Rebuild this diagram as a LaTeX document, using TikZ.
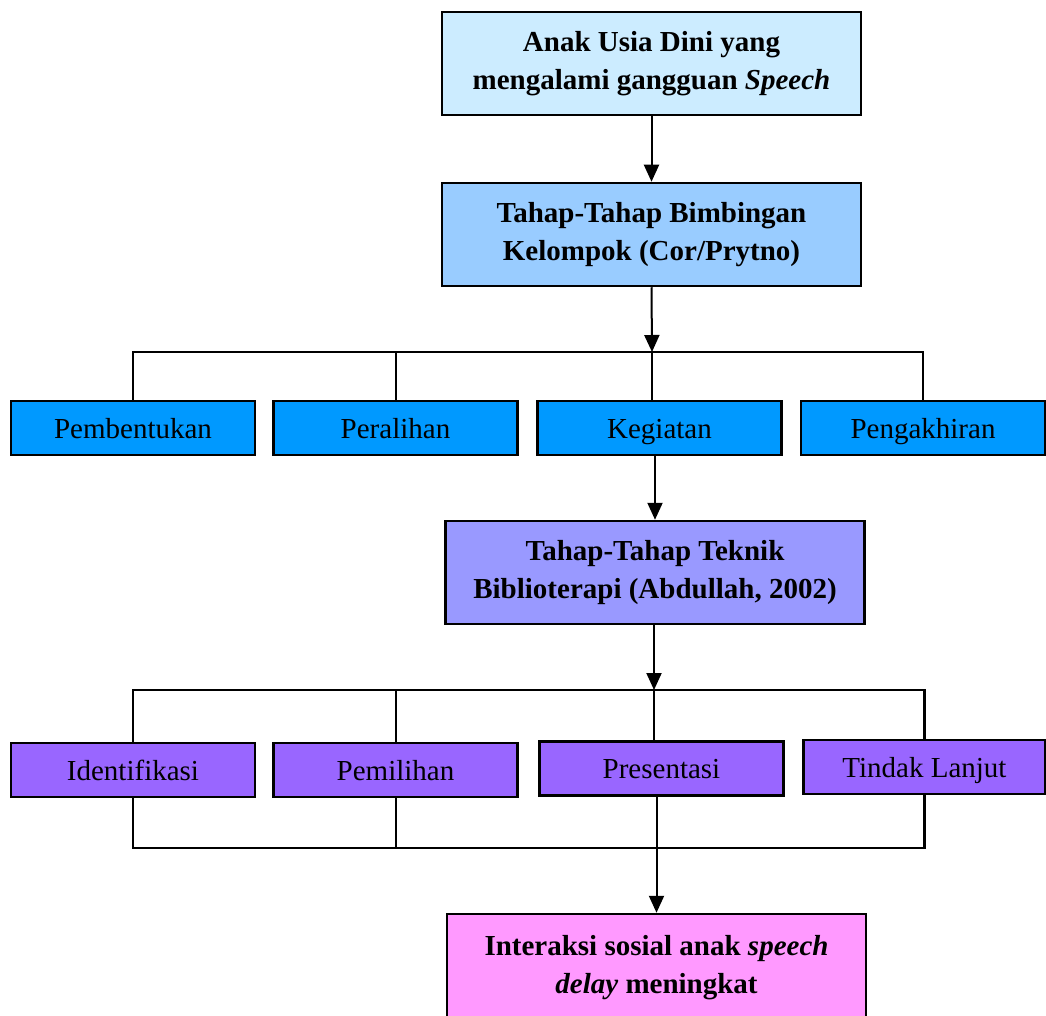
\documentclass[tikz,border=0pt]{standalone}
\usepackage{fontspec}
\setmainfont{Liberation Serif}
\usetikzlibrary{arrows.meta}

\definecolor{paleblue}{HTML}{CCECFF}
\definecolor{skyblue}{HTML}{99CCFF}
\definecolor{deepblue}{HTML}{0099FF}
\definecolor{lavender}{HTML}{9999FF}
\definecolor{violet}{HTML}{9966FF}
\definecolor{pink}{HTML}{FF99FF}

\tikzset{
  box/.style={draw, line width=2.5pt, minimum width=419pt, minimum height=103pt,
    align=center, inner sep=0pt, font=\fontsize{29}{38}\selectfont\bfseries},
  stage/.style={draw, line width=2.5pt, minimum width=244pt, minimum height=54pt,
    inner sep=0pt, text height=23pt, text depth=3pt, font=\fontsize{29}{34}\selectfont},
  link/.style={line width=2pt},
  bus/.style={line width=2.5pt},
  arrow/.style={line width=2pt, -{Triangle[width=15pt,length=17pt]}}
}

\begin{document}
\begin{tikzpicture}[x=1pt,y=-1pt]
            \useasboundingbox (0,0) rectangle (1046,1016);

            % main boxes
            \node[box, fill=paleblue] (anak) at (651.5,63.5) {Anak Usia Dini yang\\mengalami gangguan \textit{Speech}};
            \node[box, fill=skyblue] (bimbingan) at (651.5,234.5) {Tahap-Tahap Bimbingan\\Kelompok (Cor/Prytno)};

            % bimbingan stages
            \node[stage, fill=deepblue] (pembentukan) at (133,428) {Pembentukan};
            \node[stage, fill=deepblue] (peralihan) at (395.5,428) {Peralihan};
            \node[stage, fill=deepblue] (kegiatan) at (659.5,428) {Kegiatan};
            \node[stage, fill=deepblue] (pengakhiran) at (923,428) {Pengakhiran};

            \node[box, fill=lavender] (teknik) at (655,572.5) {Tahap-Tahap Teknik\\Biblioterapi (Abdullah, 2002)};

            % biblioterapi stages
            \node[stage, fill=violet] (identifikasi) at (133,770) {Identifikasi};
            \node[stage, fill=violet] (pemilihan) at (395.5,770) {Pemilihan};
            \node[stage, fill=violet] (presentasi) at (661.5,768.5) {Presentasi};
            \node[stage, fill=violet, minimum width=242pt] (tindak) at (924.5,767) {Tindak Lanjut};

            \node[box, fill=pink, minimum height=108pt] (hasil) at (656.5,968) {Interaksi sosial anak \textit{speech}\\\textit{delay} meningkat};

            \coordinate (top bus) at (652,352);
            \coordinate (mid bus) at (654,690);
            \coordinate (low bus) at (657,848);

            \draw[arrow] (anak) -- (bimbingan);
            \draw[arrow] (bimbingan.south) -- (top bus);
            \draw[bus] (pembentukan.north) |- (top bus) -| (pengakhiran.north);
            \draw[link] (peralihan.north) -- (peralihan.north |- top bus);
            \draw[link] (kegiatan.north -| top bus) -- (top bus);

            \draw[arrow] (teknik.north |- kegiatan.south) -- (teknik.north);
            \draw[arrow] (teknik.south -| mid bus) -- (mid bus);
            \draw[bus] (identifikasi.north) |- (mid bus) -| (tindak.north);
            \draw[link] (pemilihan.north) -- (pemilihan.north |- mid bus);
            \draw[link] (presentasi.north -| mid bus) -- (mid bus);

            \draw[bus] (identifikasi.south) |- (low bus) -| (tindak.south);
            \draw[link] (pemilihan.south) -- (pemilihan.south |- low bus);
            \draw[arrow] (presentasi.south -| hasil.north) -- (hasil.north);
\end{tikzpicture}
\end{document}
